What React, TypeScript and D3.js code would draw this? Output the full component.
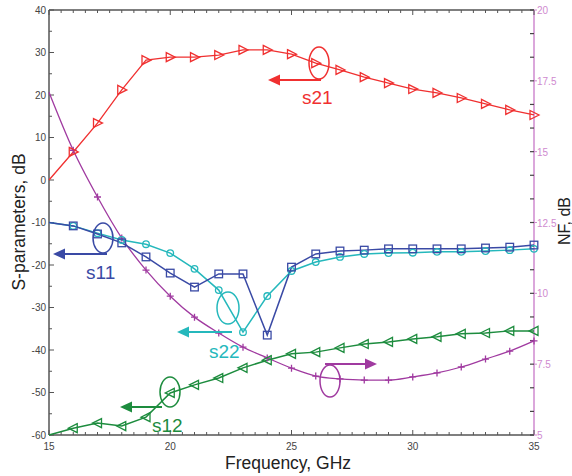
import React from "react";
import * as d3 from "d3";

const freq = [15,16,17,18,19,20,21,22,23,24,25,26,27,28,29,30,31,32,33,34,35];
const s21 = [0,6.6,13.4,21.2,28.2,28.9,28.9,29.4,30.6,30.6,29.6,27.5,25.9,24.2,22.8,21.4,20.5,19.3,17.9,16.5,15.3];
const s11 = [-10,-10.8,-12.7,-14.8,-18.1,-21.9,-25.2,-22.1,-22.1,-36.5,-20.5,-17.4,-16.7,-16.5,-16.2,-16.2,-16.2,-16.2,-16.0,-15.8,-15.3];
const s22 = [-10,-10.8,-12.5,-14.1,-15.1,-17.2,-20.9,-25.9,-35.8,-27.3,-21.4,-19.3,-18.1,-17.4,-17.2,-17.1,-16.9,-16.9,-16.7,-16.5,-16.2];
const s12 = [-60,-58.4,-57.2,-57.9,-55.8,-50.1,-48.2,-46.6,-44.2,-42.4,-40.9,-40.5,-39.5,-38.6,-38.1,-37.4,-36.9,-36.2,-36.0,-35.5,-35.5];
const nf = [17.1,15.05,13.4,11.95,10.82,9.9,9.16,8.6,8.1,7.72,7.36,7.08,6.98,6.94,6.94,7.05,7.19,7.4,7.68,7.96,8.32];

const xTicks = [15,20,25,30,35];
const yLeftTicks = [40,30,20,10,0,-10,-20,-30,-40,-50,-60];
const yRightTicks = [20,17.5,15,12.5,10,7.5,5];

const W = 572, H = 476;
const L = 49, R = 534, T = 10, B = 435;

const C = {
  red: "#f03030",
  blue: "#3a4aa5",
  cyan: "#25b8bc",
  green: "#1d8c3e",
  purple: "#a03aa0",
  axis: "#555",
  pink: "#cf8acf",
};

export default function App() {
  const x = d3.scaleLinear().domain([15, 35]).range([L, R]);
  const y = d3.scaleLinear().domain([-60, 40]).range([B, T]);
  const y2 = d3.scaleLinear().domain([5, 20]).range([B, T]);

  const lineL = (vals: number[]) =>
    d3.line<number>().x((_, i) => x(freq[i])).y((d) => y(d))(vals) || "";
  const lineR = (vals: number[]) =>
    d3.line<number>().x((_, i) => x(freq[i])).y((d) => y2(d)).curve(d3.curveMonotoneX)(vals) || "";

  const minorX = d3.range(15, 35.01, 0.5);
  const minorY = d3.range(-60, 40.01, 5);
  const minorY2 = d3.range(5, 20.01, 2.5 / 3);

  const arrow = (x1: number, x2: number, yy: number, color: string) => {
    const dir = x2 > x1 ? 1 : -1;
    const tip = x2;
    const base = x2 - dir * 12;
    return (
      <g>
        <line x1={x1} x2={base} y1={yy} y2={yy} stroke={color} strokeWidth={2} />
        <path d={`M${tip},${yy} L${base},${yy - 5.5} L${base},${yy + 5.5} Z`} fill={color} />
      </g>
    );
  };

  const tri = (cx: number, cy: number, dir: number, color: string, k: string) => (
    <path key={k} d={`M${cx - 4 * dir},${cy - 4.5} L${cx + 5 * dir},${cy} L${cx - 4 * dir},${cy + 4.5} Z`}
      fill="none" stroke={color} strokeWidth={1.3} />
  );

  const font = "Liberation Sans, Arial, sans-serif";
  const shown = (i: number) => i > 0;

  return (
    <svg width={W} height={H} style={{ position: "absolute", left: 0, top: 0, background: "#fff" }} fontFamily={font}>
      {/* frame */}
      <line x1={L} x2={L} y1={T} y2={B} stroke={C.axis} strokeWidth={1.5} />
      <line x1={L} x2={R} y1={T} y2={T} stroke={C.axis} strokeWidth={1.5} />
      <line x1={L} x2={R} y1={B} y2={B} stroke={C.axis} strokeWidth={1.5} />
      <line x1={R} x2={R} y1={T} y2={B} stroke={C.pink} strokeWidth={1.5} />

      {/* x ticks */}
      {minorX.map((v, i) => {
        const major = Math.abs(v - Math.round(v / 5) * 5) < 1e-6;
        const len = major ? 5 : 3;
        return (
          <g key={"xt" + i}>
            <line x1={x(v)} x2={x(v)} y1={B} y2={B - len} stroke={C.axis} strokeWidth={1} />
            <line x1={x(v)} x2={x(v)} y1={T} y2={T + len} stroke={C.axis} strokeWidth={1} />
          </g>
        );
      })}
      {xTicks.map((v) => (
        <text key={"xl" + v} x={x(v)} y={B + 15} textAnchor="middle" fontSize={10} fill="#444">{v}</text>
      ))}

      {/* left y ticks */}
      {minorY.map((v, i) => {
        const major = Math.abs(v % 10) < 1e-6;
        return <line key={"yt" + i} x1={L} x2={L + (major ? 5 : 3)} y1={y(v)} y2={y(v)} stroke={C.axis} strokeWidth={1} />;
      })}
      {yLeftTicks.map((v) => (
        <text key={"yl" + v} x={L - 3} y={y(v) + 3.5} textAnchor="end" fontSize={10} fill="#444">{v}</text>
      ))}

      {/* right y ticks */}
      {minorY2.map((v, i) => (
        <line key={"y2t" + i} x1={R} x2={R - 4} y1={y2(v)} y2={y2(v)} stroke="#444" strokeWidth={1.2} />
      ))}
      {yRightTicks.map((v) => (
        <g key={"y2l" + v}>
          <line x1={R} x2={R + 3} y1={y2(v)} y2={y2(v)} stroke={C.pink} strokeWidth={1} />
          <text x={R + 3} y={y2(v) + 4} textAnchor="start" fontSize={10} fill={C.pink}>{v}</text>
        </g>
      ))}

      {/* axis labels */}
      <text x={288} y={469} textAnchor="middle" fontSize={17.5} fill="#222">Frequency, GHz</text>
      <text transform={`translate(25,222) rotate(-90)`} textAnchor="middle" fontSize={17.5} fill="#222">S-parameters, dB</text>
      <text transform={`translate(570,221) rotate(-90)`} textAnchor="middle" fontSize={16} fill="#222">NF, dB</text>

      {/* series lines */}
      <path d={lineR(nf)} fill="none" stroke={C.purple} strokeWidth={1.3} />
      <path d={lineL(s12)} fill="none" stroke={C.green} strokeWidth={1.5} />
      <path d={lineL(s22)} fill="none" stroke={C.cyan} strokeWidth={1.5} />
      <path d={lineL(s11)} fill="none" stroke={C.blue} strokeWidth={1.5} />
      <path d={lineL(s21)} fill="none" stroke={C.red} strokeWidth={1.3} />

      {/* markers */}
      {nf.map((v, i) => shown(i) && (
        <path key={"nfm" + i} d={`M${x(freq[i]) - 3.5},${y2(v)} h7 M${x(freq[i])},${y2(v) - 3.5} v7`} stroke={C.purple} strokeWidth={1.3} />
      ))}
      {s12.map((v, i) => shown(i) && tri(x(freq[i]), y(v), -1, C.green, "s12m" + i))}
      {s22.map((v, i) => shown(i) && (
        <circle key={"s22m" + i} cx={x(freq[i])} cy={y(v)} r={3.3} fill="none" stroke={C.cyan} strokeWidth={1.3} />
      ))}
      {s11.map((v, i) => shown(i) && (
        <rect key={"s11m" + i} x={x(freq[i]) - 3.8} y={y(v) - 3.8} width={7.6} height={7.6} fill="none" stroke={C.blue} strokeWidth={1.3} />
      ))}
      {s21.map((v, i) => shown(i) && tri(x(freq[i]), y(v), 1, C.red, "s21m" + i))}

      {/* annotations */}
      <ellipse cx={319} cy={63} rx={10} ry={16} fill="none" stroke={C.red} strokeWidth={1.5} />
      {arrow(321, 268, 80, C.red)}
      <text x={302} y={104} fontSize={19} fill={C.red}>s21</text>

      <ellipse cx={103} cy={238} rx={10} ry={15} fill="none" stroke={C.blue} strokeWidth={1.5} />
      {arrow(107, 53, 254, C.blue)}
      <text x={86} y={279} fontSize={19} fill={C.blue}>s11</text>

      <ellipse cx={228} cy={308} rx={11} ry={16} fill="none" stroke={C.cyan} strokeWidth={1.5} />
      {arrow(232, 177, 332, C.cyan)}
      <text x={209} y={358} fontSize={19} fill={C.cyan}>s22</text>

      <ellipse cx={170} cy={392} rx={10} ry={15} fill="none" stroke={C.green} strokeWidth={1.5} />
      {arrow(162, 120, 407, C.green)}
      <text x={152} y={432} fontSize={19} fill={C.green}>s12</text>

      <ellipse cx={330} cy={381} rx={10} ry={16} fill="none" stroke={C.purple} strokeWidth={1.5} />
      {arrow(325, 377, 364, C.purple)}
    </svg>
  );
}
